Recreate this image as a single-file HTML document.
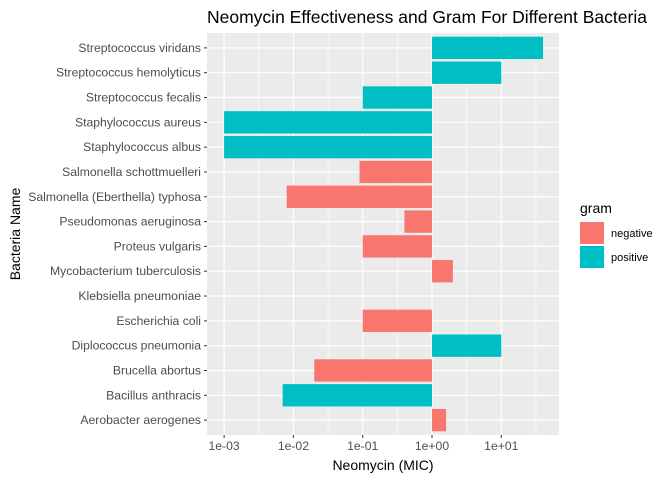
<!DOCTYPE html>
<html><head><meta charset="utf-8"><style>
body{margin:0;background:#fff;font-family:"Liberation Sans",sans-serif;}
</style></head><body>
<svg id="c" width="672" height="480" xmlns="http://www.w3.org/2000/svg"></svg>
<script>
const categories=["Streptococcus viridans","Streptococcus hemolyticus","Streptococcus fecalis","Staphylococcus aureus","Staphylococcus albus","Salmonella schottmuelleri","Salmonella (Eberthella) typhosa","Pseudomonas aeruginosa","Proteus vulgaris","Mycobacterium tuberculosis","Klebsiella pneumoniae","Escherichia coli","Diplococcus pneumonia","Brucella abortus","Bacillus anthracis","Aerobacter aerogenes"];
const values=[40,10,0.1,0.001,0.001,0.09,0.008,0.4,0.1,2,1,0.1,10,0.02,0.007,1.6];
const gram=["positive","positive","positive","positive","positive","negative","negative","negative","negative","negative","negative","negative","positive","negative","positive","negative"];
const tickVals=[0.001,0.01,0.1,1,10];
const tickLabels=["1e-03","1e-02","1e-01","1e+00","1e+01"];
const NS="http://www.w3.org/2000/svg",svg=document.getElementById('c');
function el(t,a,txt){const e=document.createElementNS(NS,t);for(const k in a)e.setAttribute(k,a[k]);if(txt!==undefined)e.textContent=txt;svg.appendChild(e);return e;}
const L=207,R=559,T=33,B=435;
const x=v=>432+69.3*Math.log10(v);
const step=(B-T)/(categories.length+0.2);
const y=i=>T+0.6*step+i*step;
const col={negative:"#F8766D",positive:"#00BFC4"};
let e=el('rect',{x:L,y:T,width:R-L,height:B-T,fill:'#EBEBEB'});

for(let i=0;i<tickVals.length;i++){const m=x(tickVals[i]*Math.sqrt(10));if(m<R)el('line',{x1:m,x2:m,y1:T,y2:B,stroke:'#fff','stroke-width':0.6});}
tickVals.forEach((v,i)=>{
 e=el('line',{x1:x(v),x2:x(v),y1:T,y2:B,stroke:'#fff','stroke-width':1.2});
 
 el('line',{x1:x(v),x2:x(v),y1:B,y2:B+3,stroke:'#333'});
 e=el('text',{x:x(v),y:B+15,'text-anchor':'middle','font-size':12.2,fill:'#4D4D4D'},tickLabels[i]);
 
});
categories.forEach((c,i)=>{
 el('line',{x1:L,x2:R,y1:y(i),y2:y(i),stroke:'#fff','stroke-width':1.2});
 el('line',{x1:L-3,x2:L,y1:y(i),y2:y(i),stroke:'#333'});
 e=el('text',{x:L-6,y:y(i)+4,'text-anchor':'end','font-size':12.2,fill:'#4D4D4D'},c);
 
 const a=x(1),b=x(values[i]);
 e=el('rect',{x:Math.min(a,b),y:y(i)-0.45*step,width:Math.abs(b-a),height:0.9*step,fill:col[gram[i]]});
 
});
e=el('text',{x:207,y:23,'font-size':17.5,fill:'#000'},"Neomycin Effectiveness and Gram For Different Bacteria");

e=el('text',{x:383,y:470,'text-anchor':'middle','font-size':14,fill:'#000'},"Neomycin (MIC)");

e=el('text',{x:20,y:234,'text-anchor':'middle','font-size':14,fill:'#000',transform:'rotate(-90 20 234)'},"Bacteria Name");

e=el('text',{x:580,y:213,'font-size':14,fill:'#000'},"gram");

["negative","positive"].forEach((g,k)=>{
 const yy=222+k*24;
 e=el('rect',{x:580,y:yy,width:24,height:22,fill:col[g]});
 
 e=el('text',{x:611,y:yy+15,'font-size':11,fill:'#000'},g);
 
});
</script>
</body></html>
